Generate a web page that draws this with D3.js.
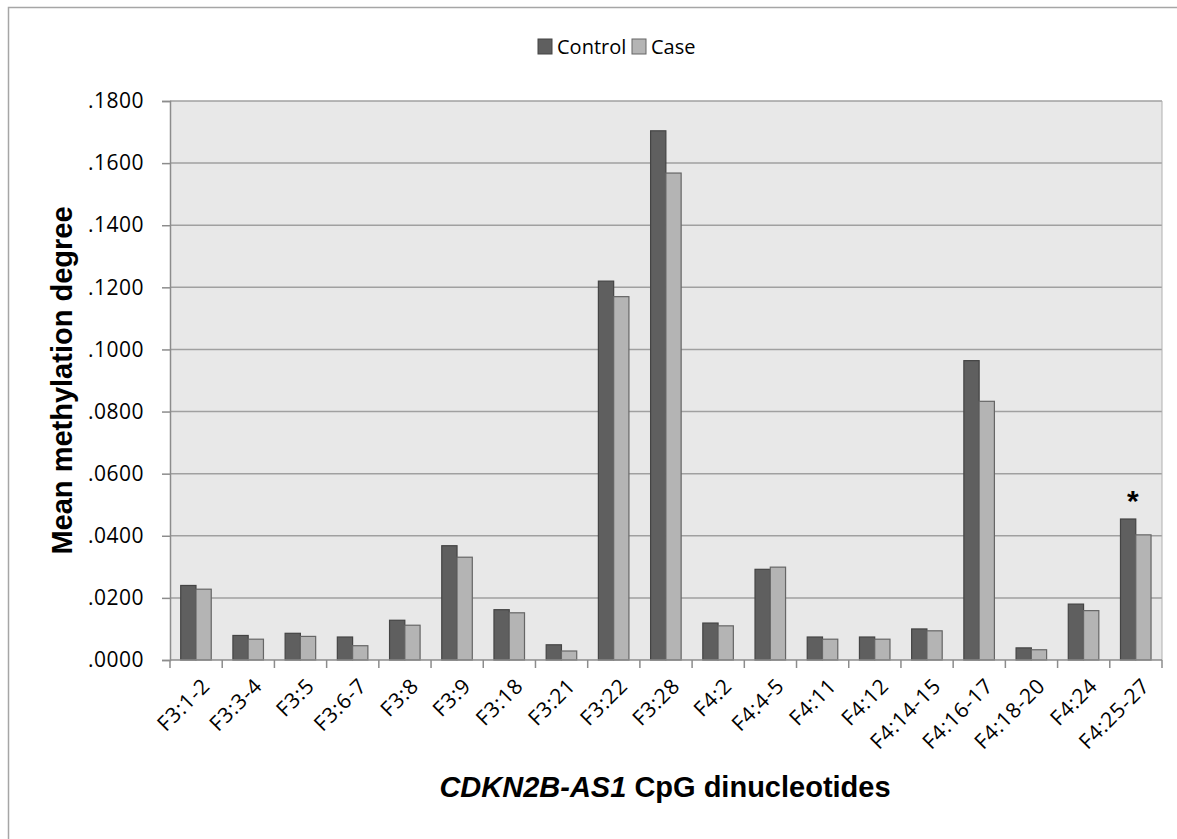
<!DOCTYPE html>
<meta charset="utf-8">
<style>
body{
  margin: 0;
  background: white;
}
svg text{
  font-family: "Open Sans", "Noto Sans", sans-serif;
  fill: #000;
}
.title{
  font-family: "Liberation Sans", Arial, sans-serif;
  font-weight: bold;
}
</style>
<body>
<svg id="chart" width="1177" height="839"></svg>
<script src="https://cdn.jsdelivr.net/npm/d3@7/dist/d3.min.js"></script>
<script>

var categories = ['F3:1-2','F3:3-4','F3:5','F3:6-7','F3:8','F3:9','F3:18','F3:21','F3:22','F3:28',
                  'F4:2','F4:4-5','F4:11','F4:12','F4:14-15','F4:16-17','F4:18-20','F4:24','F4:25-27']
var series = ['Control', 'Case']
var control = [0.0240, 0.0079, 0.0086, 0.0074, 0.0128, 0.0368, 0.0162, 0.0049, 0.1220, 0.1704,
               0.0119, 0.0292, 0.0074, 0.0074, 0.0100, 0.0964, 0.0039, 0.0180, 0.0454]
var cases   = [0.0228, 0.0067, 0.0076, 0.0046, 0.0112, 0.0331, 0.0152, 0.0029, 0.1170, 0.1568,
               0.0110, 0.0299, 0.0067, 0.0067, 0.0094, 0.0833, 0.0033, 0.0159, 0.0403]
var yTicks = [0, 0.02, 0.04, 0.06, 0.08, 0.10, 0.12, 0.14, 0.16, 0.18]
var starred = ['F4:25-27']

var fills = {Control: '#5f5f5f', Case: '#b4b4b4'}
var strokes = {Control: '#444', Case: '#666'}

var svg = d3.select('#chart')

// outer chart border (runs past right/bottom edge like the source)
svg.append('rect')
    .attr('x', 8.5).attr('y', 7.5)
    .attr('width', 1300).attr('height', 1000)
    .style('fill', 'none').style('stroke', '#a6a6a6').style('stroke-width', 1.5)

var pLeft = 170, pRight = 1162, pTop = 101, pBottom = 660

var x0 = d3.scaleBand().domain(categories).range([pLeft, pRight]).padding(0)
var bw = x0.bandwidth()
var x1 = d3.scaleBand().domain(series).range([bw * 0.205, bw * 0.79])
var y = d3.scaleLinear().domain([0, 0.18]).range([pBottom, pTop])

svg.append('rect')
    .attr('x', pLeft).attr('y', pTop)
    .attr('width', pRight - pLeft).attr('height', pBottom - pTop)
    .style('fill', '#e8e8e8')

// gridlines
svg.append('g').selectAll('line')
    .data(yTicks.filter(function(d){ return d > 0 }))
  .join('line')
    .attr('x1', pLeft).attr('x2', pRight)
    .attr('y1', function(d){ return y(d) }).attr('y2', function(d){ return y(d) })
    .style('stroke', '#a0a0a0').style('stroke-width', 1.5)

svg.append('line')
    .attr('x1', pRight).attr('x2', pRight).attr('y1', pTop).attr('y2', pBottom)
    .style('stroke', '#b0b0b0').style('stroke-width', 1)

// bars
var rows = categories.map(function(c, i){
  return {cat: c, values: [{s: 'Control', v: control[i]}, {s: 'Case', v: cases[i]}]}
})

var groups = svg.append('g').selectAll('g')
    .data(rows)
  .join('g')
    .attr('transform', function(d){ return 'translate(' + x0(d.cat) + ',0)' })

groups.selectAll('rect')
    .data(function(d){ return d.values })
  .join('rect')
    .attr('x', function(d){ return x1(d.s) })
    .attr('width', x1.bandwidth())
    .attr('y', function(d){ return y(d.v) })
    .attr('height', function(d){ return y(0) - y(d.v) })
    .style('fill', function(d){ return fills[d.s] })
    .style('stroke', function(d){ return strokes[d.s] })
    .style('stroke-width', 1.2)

// significance marker
svg.append('g').selectAll('text')
    .data(rows.filter(function(d){ return starred.indexOf(d.cat) >= 0 }))
  .join('text')
    .attr('x', function(d){ return x0(d.cat) + x1('Control') + x1.bandwidth() - 3 })
    .attr('y', function(d){ return y(d.values[0].v) - 8 })
    .attr('text-anchor', 'middle')
    .style('font-family', '"Liberation Sans", Arial, sans-serif')
    .style('font-weight', 'bold')
    .style('font-size', '30px')
    .text('*')

// y axis
var yAxis = svg.append('g')
    .attr('transform', 'translate(' + pLeft + ',0)')
    .call(d3.axisLeft(y).tickValues(yTicks).tickSize(8).tickPadding(18)
      .tickFormat(function(d){ return d3.format('.4f')(d).replace(/^0/, '') }))
yAxis.select('.domain').style('stroke', '#8c8c8c').style('stroke-width', 1.5)
yAxis.selectAll('.tick line').style('stroke', '#8c8c8c').style('stroke-width', 1.5)
yAxis.selectAll('.tick text').style('font-size', '21px').style('letter-spacing', '0.5px')

// x axis: ticks on band boundaries
var xAxis = svg.append('g')
    .attr('transform', 'translate(0,' + pBottom + ')')
xAxis.append('line')
    .attr('x1', pLeft).attr('x2', pRight)
    .style('stroke', '#8c8c8c').style('stroke-width', 1.5)
xAxis.selectAll('line.tk')
    .data(categories.concat(['end']))
  .join('line')
    .attr('class', 'tk')
    .attr('x1', function(d, i){ return pLeft + i * bw })
    .attr('x2', function(d, i){ return pLeft + i * bw })
    .attr('y1', 0).attr('y2', 8)
    .style('stroke', '#8c8c8c').style('stroke-width', 1.5)
xAxis.selectAll('text.lbl')
    .data(categories)
  .join('text')
    .attr('class', 'lbl')
    .attr('transform', function(d){
      return 'translate(' + (x0(d) + bw / 2 + 10) + ',22) rotate(-45)'
    })
    .attr('text-anchor', 'end')
    .attr('dy', '0.35em')
    .style('font-size', '21px')
    .style('letter-spacing', '0.8px')
    .text(function(d){ return d })

// axis titles
svg.append('text')
    .attr('class', 'title')
    .attr('transform', 'translate(72,' + ((pTop + pBottom) / 2) + ') rotate(-90)')
    .attr('text-anchor', 'middle')
    .style('font-size', '29px')
    .text('Mean methylation degree')

var xt = svg.append('text')
    .attr('class', 'title')
    .attr('x', (pLeft + pRight) / 2 - 1).attr('y', 797)
    .attr('text-anchor', 'middle')
    .style('font-size', '29px')
xt.append('tspan').style('font-style', 'italic').text('CDKN2B-AS1')
xt.append('tspan').text(' CpG dinucleotides')

// legend
var legend = svg.append('g').attr('transform', 'translate(538,39)')
var li = legend.selectAll('g')
    .data(series)
  .join('g')
    .attr('transform', function(d, i){ return 'translate(' + (i * 94) + ',0)' })
li.append('rect')
    .attr('width', 14).attr('height', 15)
    .style('fill', function(d){ return fills[d] })
    .style('stroke', function(d){ return strokes[d] })
li.append('text')
    .attr('x', 19).attr('y', 8).attr('dy', '0.35em')
    .style('font-size', '20px')
    .text(function(d){ return d })

</script>
</body>
